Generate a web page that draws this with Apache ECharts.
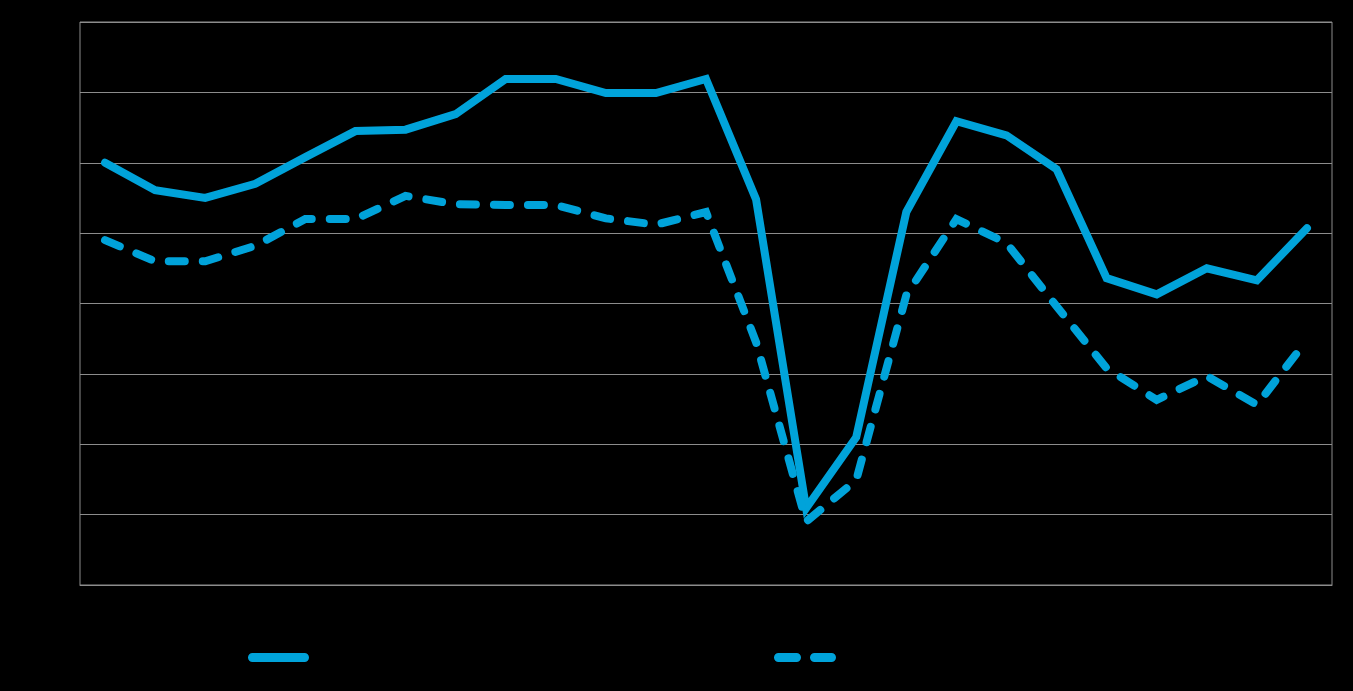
<!DOCTYPE html>
<html>
<head>
<meta charset="utf-8">
<script src="https://cdn.jsdelivr.net/npm/echarts@6/dist/echarts.min.js"></script>
<style>html,body{margin:0;padding:0;background:#000;}#c{width:1353px;height:691px;}</style>
</head>
<body>
<div id="c"></div>
<script>
const categories = ['1','2','3','4','5','6','7','8','9','10','11','12','13','14','15','16','17','18','19','20','21','22','23','24','25'];
const seriesSolid = [60.0,56.1,55.0,57.0,60.8,64.5,64.7,66.9,71.9,71.9,69.9,69.9,71.9,54.8,10.9,21.0,53.0,65.9,63.9,59.1,43.6,41.3,45.0,43.3,50.7];
const seriesDashed = [49.0,46.0,46.0,48.2,52.0,52.0,55.3,54.1,54.0,54.0,52.1,51.2,53.0,34.5,9.0,14.9,41.2,52.0,48.6,39.6,30.8,26.3,29.7,25.6,34.8];
const seriesNames = ['Series 1','Series 2'];

const color = '#00A3DA';
const solidIcon = 'path://M4.5,0 L57.5,0 A4.5,4.5 0 0 1 57.5,9 L4.5,9 A4.5,4.5 0 0 1 4.5,0 Z';
const dashIcon = 'path://M4.5,0 L22.5,0 A4.5,4.5 0 0 1 22.5,9 L4.5,9 A4.5,4.5 0 0 1 4.5,0 Z M40.5,0 L57.5,0 A4.5,4.5 0 0 1 57.5,9 L40.5,9 A4.5,4.5 0 0 1 40.5,0 Z';
const chart = echarts.init(document.getElementById('c'));
chart.setOption({
  backgroundColor: '#000',
  animation: false,
  grid: {left: 80, right: 21, top: 22, bottom: 106, show: true, borderColor: '#8c8c8c', borderWidth: 1},
  legend: [
    {data: [{name: seriesNames[0], icon: solidIcon}], left: 248, top: 653, padding: 0, itemWidth: 61, itemHeight: 9,
     formatter: () => '', itemGap: 0, textStyle: {fontSize: 6}, itemStyle: {color: color}},
    {data: [{name: seriesNames[1], icon: dashIcon}], left: 774, top: 653, padding: 0, itemWidth: 62, itemHeight: 9,
     formatter: () => '', itemGap: 0, textStyle: {fontSize: 6}, itemStyle: {color: color}}
  ],
  xAxis: {
    type: 'category', data: categories, boundaryGap: true,
    axisLine: {show: true, lineStyle: {color: '#8c8c8c'}}, axisTick: {show: false}, axisLabel: {show: false}
  },
  yAxis: {
    type: 'value', min: 0, max: 80, interval: 10,
    axisLine: {show: false}, axisTick: {show: false}, axisLabel: {show: false},
    splitLine: {lineStyle: {color: '#8c8c8c', width: 1}}
  },
  series: [
    {name: seriesNames[0], type: 'line', data: seriesSolid, showSymbol: false, symbol: 'none',
     lineStyle: {color: color, width: 8, cap: 'round', join: 'miter'}, itemStyle: {color: color}},
    {name: seriesNames[1], type: 'line', data: seriesDashed, showSymbol: false, symbol: 'none',
     lineStyle: {color: color, width: 8, type: [16, 18], cap: 'round', join: 'miter'}, itemStyle: {color: color}}
  ]
});
</script>
</body>
</html>
